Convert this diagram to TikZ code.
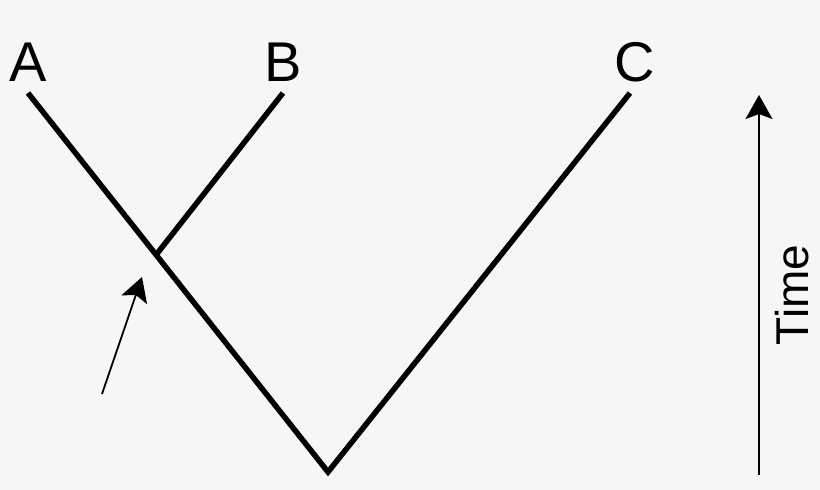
\documentclass[tikz,border=0pt]{standalone}
\usepackage{fontspec}
\setmainfont{Liberation Sans}
\usetikzlibrary{arrows.meta,positioning}
\definecolor{paper}{RGB}{246,246,246}
\begin{document}
\begin{tikzpicture}[x=1pt,y=-1pt]
      \tikzstyle{branch}=[line width=5.5pt]
      \tikzstyle{taxon}=[font=\fontsize{56}{56}\selectfont, inner sep=0pt]
      \tikzstyle{pointer}=[-{Stealth[length=24pt,width=27pt,inset=5pt]}, line width=1.8pt]
      \fill[paper] (0,0) rectangle (820,490);
      \coordinate (root) at (328,472);
      \coordinate (tipA) at (28,93);
      \coordinate (tipB) at (283,93);
      \coordinate (tipC) at (630,93);
      \coordinate (split) at (156,255);
      \node[taxon, above=11pt of tipA] (A) {A};
      \node[taxon, above=11pt of tipB] (B) {B};
      \node[taxon, above=11pt of tipC, xshift=5pt] (C) {C};
      \draw[branch] (tipA) -- (root) -- (tipC);
      \draw[branch] (split) -- (tipB);
      % arrow to the split
      \coordinate (hint) at (102,394);
      \coordinate (hinttip) at (142,277);
      \draw[pointer] (hint) -- (hinttip);
      % time axis
      \coordinate (past) at (759,475);
      \coordinate (now) at (759,95);
      \draw[pointer] (past) -- (now);
      \node[font=\fontsize{46}{46}\selectfont, rotate=90] (time) at (792,295) {Time};
    \end{tikzpicture}
\end{document}
